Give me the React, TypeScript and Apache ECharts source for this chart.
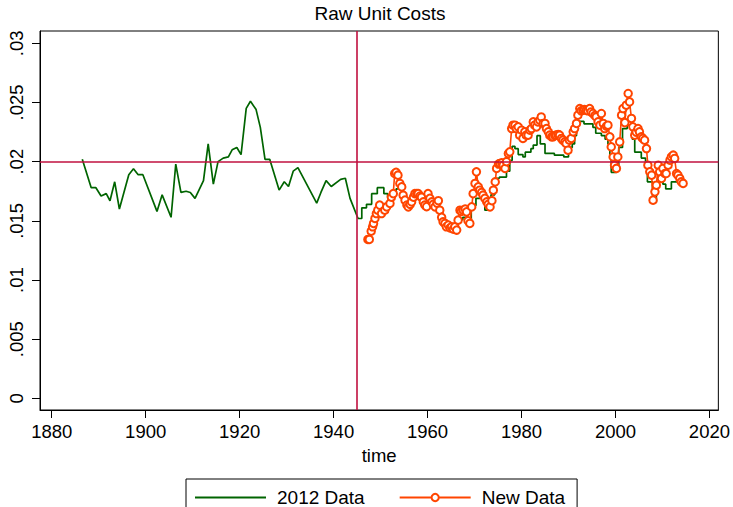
import React, { useEffect, useRef } from 'react';
import * as echarts from 'echarts';

const xTicks = [1880, 1900, 1920, 1940, 1960, 1980, 2000, 2020];
const yTicks = [0, 0.005, 0.01, 0.015, 0.02, 0.025, 0.03];
const refYear = 1945;
const refCost = 0.02;

// 2012 Data: annual part (pre-war)
const oldAnnualYears = [
  1886.5, 1888.4, 1889.4, 1890.5, 1891.6, 1892.4, 1893.4, 1894.4, 1896.4, 1897.4,
  1898.4, 1899.4, 1902.4, 1903.5, 1905.4, 1906.4, 1907.5, 1908.6, 1909.5, 1910.5,
  1912.3, 1913.3, 1914.4, 1915.4, 1916.5, 1917.6, 1918.4, 1919.4, 1920.3, 1921.4,
  1922.3, 1923.5, 1924.4, 1925.4, 1926.4, 1928.4, 1929.5, 1930.4, 1931.4, 1932.4,
  1936.4, 1937.3, 1938.4, 1939.5, 1941.5, 1942.5, 1943.5, 1945.2,
];
const oldAnnualCosts = [
  0.0202, 0.0178, 0.0178, 0.0171, 0.0173, 0.0167, 0.0183, 0.0160, 0.0189, 0.0194,
  0.0189, 0.0189, 0.0158, 0.0172, 0.0153, 0.0198, 0.0174, 0.0175, 0.0174, 0.0169,
  0.0184, 0.0215, 0.0181, 0.0200, 0.0203, 0.0204, 0.0210, 0.0212, 0.0206, 0.0245,
  0.0251, 0.0244, 0.0229, 0.0202, 0.0202, 0.0176, 0.0183, 0.0179, 0.0192, 0.0195,
  0.0165, 0.0174, 0.0184, 0.0179, 0.0185, 0.0186, 0.0169, 0.0152,
];

// 2012 Data: step part (post-war)
const oldStepYears = [
  1945.2, 1946.0, 1947.0, 1948.1, 1949.3, 1950.7, 1951.5, 1952.5, 1953.3, 1954.7,
  1956.0, 1957.0, 1958.5, 1959.5, 1960.5, 1961.5, 1962.5, 1963.5, 1964.5, 1965.5,
  1966.5, 1967.5, 1968.5, 1969.3, 1970.3, 1972.2, 1973.5, 1974.3, 1975.3, 1976.8,
  1977.5, 1978.0, 1978.6, 1979.3, 1980.3, 1980.8, 1982.0, 1982.5, 1983.3, 1984.0,
  1985.0, 1987.0, 1989.0, 1990.0, 1990.8, 1991.3, 1991.7, 1993.3, 1995.2, 1995.8,
  1997.0, 1997.8, 1998.4, 1998.8, 1999.1, 2000.2, 2000.7, 2001.5, 2002.5, 2003.6,
  2004.1, 2005.5, 2006.4, 2006.8, 2007.9, 2008.7, 2009.7, 2010.1, 2010.7, 2011.9,
  2013.5,
];
const oldStepCosts = [
  0.0152, 0.0161, 0.0164, 0.0173, 0.0178, 0.0173, 0.0170, 0.0172, 0.0177, 0.0166,
  0.0164, 0.0170, 0.0168, 0.0163, 0.0166, 0.0160, 0.0155, 0.0146, 0.0144, 0.0146,
  0.0151, 0.0153, 0.0151, 0.0163, 0.0169, 0.0159, 0.0172, 0.0186, 0.0187, 0.0192,
  0.0201, 0.0213, 0.0211, 0.0206, 0.0204, 0.0208, 0.0211, 0.0214, 0.0222, 0.0215,
  0.0207, 0.02055, 0.0204, 0.0212, 0.0215, 0.0222, 0.0234, 0.0232, 0.0229, 0.0224,
  0.0222, 0.0219, 0.0215, 0.0203, 0.0191, 0.0194, 0.0212, 0.0228, 0.0231, 0.0219,
  0.0208, 0.0203, 0.0200, 0.0183, 0.0166, 0.0183, 0.0184, 0.0181, 0.0177, 0.0183,
  0.0183,
];

// New Data
const newYears = [
  1947.3, 1947.6, 1948.0, 1948.3, 1948.5, 1948.8, 1949.1, 1949.4, 1949.8, 1950.2,
  1950.9, 1951.3, 1952.0, 1952.3, 1952.7, 1953.0, 1953.3, 1953.7, 1954.1, 1954.5,
  1954.8, 1955.2, 1955.6, 1955.9, 1956.3, 1956.6, 1957.0, 1957.3, 1957.7, 1958.0,
  1958.4, 1958.7, 1959.1, 1959.4, 1959.8, 1960.1, 1960.5, 1960.9, 1961.2, 1961.6,
  1962.0, 1962.3, 1962.6, 1963.0, 1963.3, 1963.7, 1964.0, 1964.4, 1964.8, 1965.1,
  1965.5, 1965.8, 1966.2, 1966.5, 1966.9, 1967.2, 1967.6, 1968.0, 1968.3, 1968.6,
  1969.0, 1969.4, 1969.7, 1970.1, 1970.4, 1970.8, 1971.1, 1971.5, 1971.8, 1972.2,
  1972.6, 1972.9, 1973.3, 1973.7, 1974.0, 1974.4, 1974.7, 1975.1, 1975.4, 1975.8,
  1976.1, 1976.5, 1976.8, 1977.2, 1977.5, 1977.9, 1978.2, 1978.6, 1978.9, 1979.3,
  1979.6, 1980.0, 1980.3, 1980.7, 1981.0, 1981.4, 1981.8, 1982.1, 1982.5, 1982.8,
  1983.2, 1983.5, 1983.9, 1984.2, 1984.6, 1985.0, 1985.3, 1985.7, 1986.0, 1986.4,
  1986.7, 1987.1, 1987.4, 1987.8, 1988.1, 1988.5, 1988.8, 1989.2, 1989.5, 1989.9,
  1990.2, 1990.6, 1991.0, 1991.3, 1991.7, 1992.0, 1992.4, 1992.7, 1993.1, 1993.4,
  1993.8, 1994.1, 1994.5, 1994.8, 1995.2, 1995.6, 1995.9, 1996.3, 1996.7, 1997.0,
  1997.4, 1997.7, 1998.1, 1998.4, 1998.8, 1999.1, 1999.5, 1999.8, 2000.2, 2000.5,
  2000.9, 2001.3, 2001.6, 2002.0, 2002.3, 2002.7, 2003.0, 2003.4, 2003.7, 2004.1,
  2004.4, 2004.8, 2005.1, 2005.5, 2005.8, 2006.2, 2006.6, 2006.9, 2007.3, 2007.7,
  2008.0, 2008.4, 2008.7, 2009.1, 2009.4, 2009.8, 2010.1, 2010.5, 2010.8, 2011.2,
  2011.6, 2011.9, 2012.3, 2012.6, 2013.0, 2013.3, 2013.7, 2014.0, 2014.4,
];
const newCosts = [
  0.01343, 0.01343, 0.01413, 0.0145, 0.01478, 0.0152, 0.01562, 0.0159, 0.01633, 0.01562,
  0.0159, 0.01618, 0.01647, 0.0170, 0.0173, 0.0190, 0.0191, 0.01886, 0.01816, 0.01787,
  0.01717, 0.01675, 0.01633, 0.01618, 0.0164, 0.0166, 0.0170, 0.0173, 0.0173, 0.0173,
  0.0171, 0.0170, 0.0166, 0.01633, 0.0162, 0.0173, 0.0169, 0.0166, 0.0164, 0.01618,
  0.0165, 0.0167, 0.0159, 0.0153, 0.01492, 0.01478, 0.0145, 0.01464, 0.0144, 0.0145,
  0.0143, 0.0145, 0.01422, 0.01506, 0.0159, 0.0158, 0.0159, 0.0160, 0.01576, 0.0150,
  0.01478, 0.01618, 0.0173, 0.01816, 0.01914, 0.01787, 0.01759, 0.0174, 0.01717, 0.0169,
  0.0166, 0.0164, 0.01618, 0.0167, 0.01759, 0.01829, 0.01943, 0.0198, 0.01985, 0.0199,
  0.0197, 0.01943, 0.0200, 0.02069, 0.02083, 0.0228, 0.02308, 0.02308, 0.0228, 0.02294,
  0.02224, 0.02266, 0.02196, 0.02252, 0.02224, 0.02224, 0.02266, 0.0228, 0.02336, 0.02308,
  0.02294, 0.02336, 0.0235, 0.02378, 0.02323, 0.02323, 0.0228, 0.02252, 0.02224, 0.0221,
  0.0221, 0.0222, 0.02224, 0.0223, 0.02224, 0.02196, 0.02182, 0.02167, 0.02154, 0.02097,
  0.02182, 0.02196, 0.02252, 0.0228, 0.02323, 0.02393, 0.02449, 0.0243, 0.02435, 0.0244,
  0.02435, 0.0243, 0.02449, 0.0242, 0.02407, 0.0239, 0.02378, 0.02336, 0.02308, 0.02407,
  0.02323, 0.0228, 0.0230, 0.02308, 0.0221, 0.02125, 0.0204, 0.0197, 0.01943, 0.0204,
  0.02167, 0.02393, 0.02449, 0.0233, 0.02477, 0.02576, 0.02505, 0.02365, 0.02294, 0.02224,
  0.0225, 0.0228, 0.02252, 0.0221, 0.02196, 0.02182, 0.02111, 0.0197, 0.01914, 0.01886,
  0.01675, 0.01745, 0.01801, 0.0197, 0.01914, 0.01858, 0.01943, 0.0190, 0.0190, 0.0197,
  0.02013, 0.0204, 0.02055, 0.02027, 0.0190, 0.01886, 0.01858, 0.0183, 0.01816,
];

const GREEN = '#006400';
const ORANGE = '#ff4500';
const REFLINE = '#c0103f';
const FONT = '"Liberation Sans", Arial, Helvetica, sans-serif';

const pairs = (xs: number[], ys: number[]) => xs.map((x, i) => [x, ys[i]]);

export default function App() {
  const ref = useRef<HTMLDivElement>(null);
  useEffect(() => {
    document.body.style.margin = '0';
    if (!ref.current) return;
    const chart = echarts.init(ref.current, undefined, { renderer: 'svg' });
    chart.setOption({
      animation: false,
      backgroundColor: '#ffffff',
      textStyle: { fontFamily: FONT },
      title: {
        text: 'Raw Unit Costs',
        left: 380,
        top: 4,
        padding: 0,
        textAlign: 'center',
        textStyle: { fontFamily: FONT, fontSize: 19, fontWeight: 'normal', color: '#000' },
      },
      grid: {
        left: 40,
        right: 13,
        top: 31,
        bottom: 97,
        show: true,
        borderColor: '#000',
        borderWidth: 1,
        backgroundColor: 'transparent',
      },
      legend: {
        data: [{ name: '2012 Data', itemStyle: { opacity: 0 } }, { name: 'New Data' }],
        left: 186,
        top: 479,
        orient: 'horizontal',
        itemWidth: 71,
        itemHeight: 9,
        itemGap: 34,
        padding: [9, 12, 9, 8],
        borderColor: '#000',
        borderWidth: 1,
        borderRadius: 0,
        selectedMode: false,
        textStyle: { fontFamily: FONT, fontSize: 19, color: '#000', padding: [0, 0, 0, 6] },
      },
      xAxis: {
        type: 'value',
        min: 1877.5,
        max: 2021.9,
        name: 'time',
        nameLocation: 'middle',
        nameGap: 34,
        nameTextStyle: { fontFamily: FONT, fontSize: 18.5, color: '#000' },
        axisLine: { show: true, onZero: false, lineStyle: { color: '#000', width: 1 } },
        axisTick: { show: true, length: 8, customValues: xTicks, lineStyle: { color: '#000', width: 1 } },
        axisLabel: {
          customValues: xTicks,
          fontFamily: FONT,
          fontSize: 18.5,
          color: '#000',
          margin: 12,
          formatter: (v: number) => String(v),
        },
        splitLine: { show: false },
      },
      yAxis: {
        type: 'value',
        min: -0.00098,
        max: 0.03104,
        axisLine: { show: true, onZero: false, lineStyle: { color: '#000', width: 1 } },
        axisTick: { show: true, length: 8, customValues: yTicks, lineStyle: { color: '#000', width: 1 } },
        axisLabel: {
          customValues: yTicks,
          rotate: 90,
          fontFamily: FONT,
          fontSize: 18.5,
          color: '#000',
          margin: 14,
          formatter: (v: number) => (v === 0 ? '0' : String(v).replace(/^0/, '')),
        },
        splitLine: { show: false },
      },
      series: [
        {
          type: 'line',
          name: '2012 Data',
          data: pairs(oldAnnualYears, oldAnnualCosts),
          symbol: 'none',
          showSymbol: false,
          lineStyle: { color: GREEN, width: 1.7 },
          itemStyle: { color: GREEN },
          z: 2,
          markLine: {
            silent: true,
            symbol: ['none', 'none'],
            label: { show: false },
            lineStyle: { color: REFLINE, width: 1.6, type: 'solid' },
            emphasis: { disabled: true },
            data: [{ xAxis: refYear }, { yAxis: refCost }],
          },
        },
        {
          type: 'line',
          name: '2012 Data',
          data: pairs(oldStepYears, oldStepCosts),
          step: 'end',
          symbol: 'none',
          showSymbol: false,
          lineStyle: { color: GREEN, width: 1.7 },
          itemStyle: { color: GREEN },
          z: 3,
        },
        {
          type: 'line',
          name: 'New Data',
          data: pairs(newYears, newCosts),
          symbol: 'emptyCircle',
          symbolSize: 7.5,
          showSymbol: true,
          showAllSymbol: true,
          lineStyle: { color: ORANGE, width: 1.6 },
          itemStyle: { color: ORANGE, borderColor: ORANGE, borderWidth: 1.5 },
          z: 4,
        },
      ],
    });
    return () => chart.dispose();
  }, []);
  return (
    <div
      ref={ref}
      style={{ position: 'absolute', left: 0, top: 0, width: 733, height: 507, background: '#fff' }}
    />
  );
}
